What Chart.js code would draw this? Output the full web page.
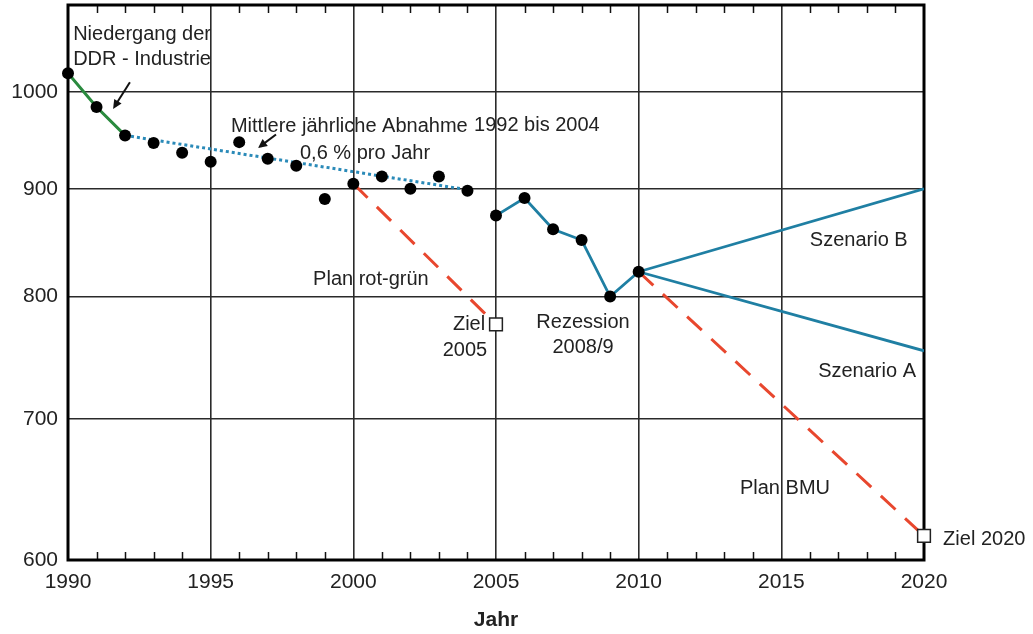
<!DOCTYPE html>
<html>
<head>
<meta charset="utf-8">
<title>CO2-Emissionen Deutschland</title>
<script src="https://cdn.jsdelivr.net/npm/chart.js@4.4.1/dist/chart.umd.min.js"></script>
<style>
  html, body { margin: 0; padding: 0; background: #fff; }
  #wrap { width: 1033px; height: 634px; }
</style>
</head>
<body>
<div id="wrap"><canvas id="chart" width="1033" height="634"></canvas></div>
<script>
// measured emissions 1990-2010 (Mio t)
const years = [1990, 1991, 1992, 1993, 1994, 1995, 1996, 1997, 1998, 1999, 2000,
               2001, 2002, 2003, 2004, 2005, 2006, 2007, 2008, 2009, 2010];
const emissions = [1021, 984, 954, 946, 936, 927, 947, 930, 923, 890, 905,
                   912, 900, 912, 898, 874, 891, 861, 851, 800, 822];

// trend 1992-2004
const trendYears = [1992, 2004];
const trendValues = [954, 899];

// scenarios after 2010
const scenYears = [2010, 2020];
const scenarioB = [822, 900];
const scenarioA = [822, 754];

// political plans
const rotGruenYears = [2000, 2005];
const rotGruenValues = [905, 776];
const bmuYears = [2010, 2020];
const bmuValues = [822, 616];

// targets
const targetYears = [2005, 2020];
const targetValues = [776, 616];

const yTicks = [600, 700, 800, 900, 1000];

// text notes, anchored in data coordinates
const notes = [
  { t: 'Niedergang der', x: 1990.18, y: 1067, align: 'left' },
  { t: 'DDR - Industrie', x: 1990.18, y: 1039, align: 'left' },
  { t: 'Mittlere jährliche Abnahme', x: 1995.71, y: 965, align: 'left' },
  { t: '1992 bis 2004', x: 2004.23, y: 966, align: 'left' },
  { t: '0,6 % pro Jahr', x: 1998.13, y: 937, align: 'left' },
  { t: 'Plan rot-grün', x: 1998.59, y: 817, align: 'left' },
  { t: 'Ziel', x: 2004.62, y: 778, align: 'right' },
  { t: '2005', x: 2004.69, y: 756, align: 'right' },
  { t: 'Rezession', x: 2008.05, y: 779, align: 'center' },
  { t: '2008/9', x: 2008.05, y: 758, align: 'center' },
  { t: 'Szenario B', x: 2016.0, y: 852, align: 'left' },
  { t: 'Szenario A', x: 2016.29, y: 739, align: 'left' },
  { t: 'Plan BMU', x: 2013.55, y: 650, align: 'left' },
  { t: 'Ziel 2020', x: 2020.67, y: 615, align: 'left' }
];

const arrows = [
  { x1: 1992.17, y1: 1011, x2: 1991.58, y2: 982 },
  { x1: 1997.29, y1: 955, x2: 1996.66, y2: 941 }
];

const pts = (xs, ys) => xs.map((x, i) => ({ x: x, y: ys[i] }));

const green = '#2a8a3e';
const blue = '#1f7fa3';
const red = '#e8472e';
const FONT = '"Liberation Sans", Arial, sans-serif';

// frame, inner minor ticks, notes and arrows
const decor = {
  id: 'decor',
  beforeDatasetsDraw(chart) {
    const { ctx, chartArea: a, scales: { x } } = chart;
    ctx.save();
    ctx.strokeStyle = '#111';
    ctx.lineWidth = 1.5;
    for (let yr = 1991; yr < 2020; yr++) {
      if (yr % 5 === 0) continue;
      const px = Math.round(x.getPixelForValue(yr)) + 0.5;
      ctx.beginPath();
      ctx.moveTo(px, a.bottom);
      ctx.lineTo(px, a.bottom - 8);
      ctx.moveTo(px, a.top);
      ctx.lineTo(px, a.top + 8);
      ctx.stroke();
    }
    ctx.lineWidth = 3;
    ctx.strokeStyle = '#000';
    ctx.strokeRect(a.left, a.top, a.right - a.left, a.bottom - a.top);
    ctx.restore();
  },
  afterDatasetsDraw(chart) {
    const { ctx, scales: { x, y } } = chart;
    ctx.save();
    ctx.fillStyle = '#222';
    ctx.font = '20px ' + FONT;
    ctx.textBaseline = 'middle';
    notes.forEach(n => {
      ctx.textAlign = n.align;
      ctx.fillText(n.t, x.getPixelForValue(n.x), y.getPixelForValue(n.y) + 2);
    });
    ctx.strokeStyle = '#111';
    ctx.fillStyle = '#111';
    ctx.lineWidth = 2;
    arrows.forEach(ar => {
      const x1 = x.getPixelForValue(ar.x1), y1 = y.getPixelForValue(ar.y1);
      const x2 = x.getPixelForValue(ar.x2), y2 = y.getPixelForValue(ar.y2);
      const ang = Math.atan2(y2 - y1, x2 - x1);
      ctx.beginPath();
      ctx.moveTo(x1, y1);
      ctx.lineTo(x2 - 6 * Math.cos(ang), y2 - 6 * Math.sin(ang));
      ctx.stroke();
      ctx.beginPath();
      ctx.moveTo(x2, y2);
      ctx.lineTo(x2 - 10 * Math.cos(ang - 0.45), y2 - 10 * Math.sin(ang - 0.45));
      ctx.lineTo(x2 - 10 * Math.cos(ang + 0.45), y2 - 10 * Math.sin(ang + 0.45));
      ctx.closePath();
      ctx.fill();
    });
    ctx.restore();
  }
};

const lineDs = (data, color, dash, width) => ({
  data: data,
  borderColor: color,
  borderWidth: width || 2.5,
  borderDash: dash || [],
  pointRadius: 0,
  fill: false,
  tension: 0
});

const noPad = s => { s.paddingTop = 0; s.paddingBottom = 0; s.paddingLeft = 0; s.paddingRight = 0; };

new Chart(document.getElementById('chart'), {
  type: 'line',
  data: {
    datasets: [
      {
        data: pts(years, emissions),
        showLine: false,
        clip: false,
        pointRadius: 6,
        pointBackgroundColor: '#000',
        pointBorderColor: '#000',
        pointBorderWidth: 0
      },
      {
        data: pts(targetYears, targetValues),
        showLine: false,
        clip: false,
        pointStyle: 'rect',
        pointRadius: 9,
        pointBackgroundColor: '#fff',
        pointBorderColor: '#222',
        pointBorderWidth: 1.5
      },
      lineDs(pts(years.slice(0, 3), emissions.slice(0, 3)), green, [], 3),
      lineDs(pts(trendYears, trendValues), '#2a8ab8', [3, 3], 3),
      lineDs(pts(years.slice(15), emissions.slice(15)), blue, [], 2.8),
      lineDs(pts(scenYears, scenarioB), blue, [], 2.8),
      lineDs(pts(scenYears, scenarioA), blue, [], 2.8),
      lineDs(pts(rotGruenYears, rotGruenValues), red, [20, 13], 3),
      lineDs(pts(bmuYears, bmuValues), red, [20, 13], 3)
    ]
  },
  options: {
    responsive: false,
    animation: false,
    layout: { autoPadding: false, padding: { top: 5, right: 109, left: 0, bottom: 0 } },
    plugins: {
      legend: { display: false },
      tooltip: { enabled: false }
    },
    scales: {
      x: {
        type: 'linear',
        min: 1990,
        max: 2020,
        afterFit: s => { s.height = 74; noPad(s); },
        ticks: {
          stepSize: 5,
          padding: 10,
          color: '#222',
          font: { family: FONT, size: 21 },
          callback: v => String(v)
        },
        grid: { color: '#2a2a2a', lineWidth: 1.6, drawTicks: false },
        border: { display: false },
        title: {
          display: true,
          text: 'Jahr',
          color: '#222',
          font: { family: FONT, size: 21, weight: 'bold' },
          padding: { top: 0, bottom: 1 }
        }
      },
      y: {
        type: 'logarithmic',
        min: 600,
        max: 1100,
        afterFit: s => { s.width = 68; noPad(s); },
        afterBuildTicks: s => { s.ticks = yTicks.map(v => ({ value: v })); },
        ticks: {
          padding: 10,
          color: '#222',
          font: { family: FONT, size: 21 },
          callback: v => String(v)
        },
        grid: { color: '#2a2a2a', lineWidth: 1.6, drawTicks: false },
        border: { display: false }
      }
    }
  },
  plugins: [decor]
});
</script>
</body>
</html>
